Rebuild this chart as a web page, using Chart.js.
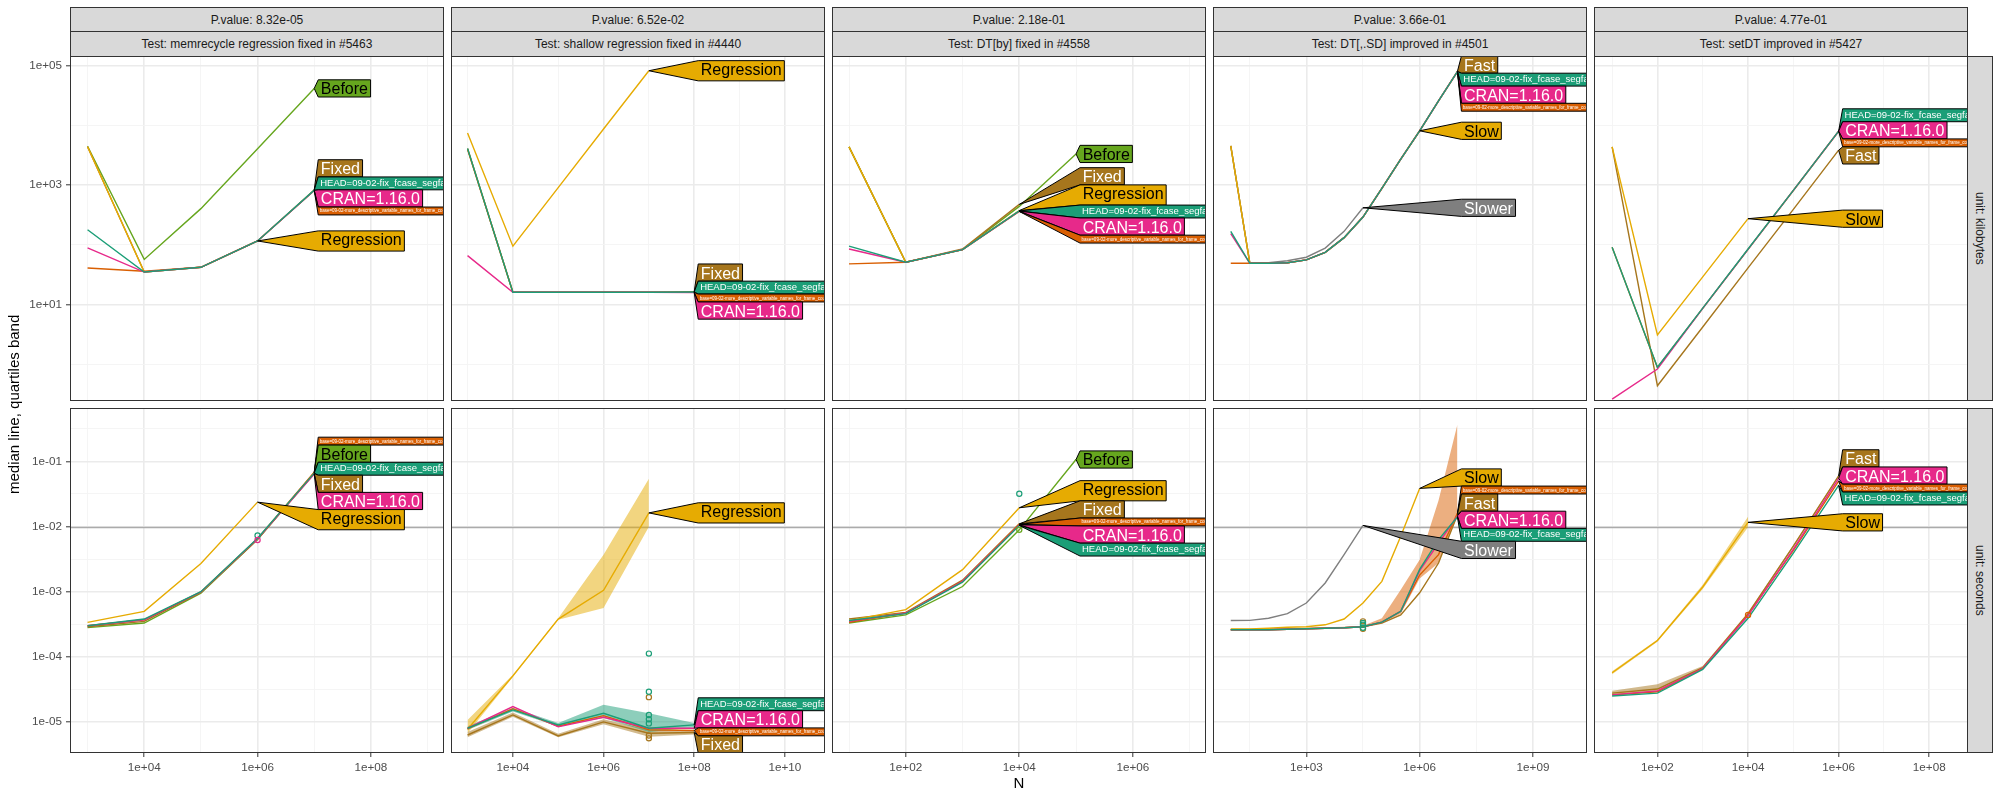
<!DOCTYPE html>
<html>
<head>
<meta charset="utf-8">
<script src="https://cdn.jsdelivr.net/npm/chart.js@4.4.0/dist/chart.umd.min.js"></script>
<style>
  body { margin: 0; background: #fff; }
  #wrap { position: relative; width: 2000px; height: 800px; font-family: 'Liberation Sans', Arial, sans-serif; overflow: hidden; }
  .strip { position: absolute; box-sizing: border-box; background: #D9D9D9; border: 1px solid #333; color: #1A1A1A;
           font-size: 12px; display: flex; align-items: center; justify-content: center; white-space: nowrap; }
  .vert { writing-mode: vertical-rl; }
  .title { position: absolute; color: #000; font-size: 15px; display: flex; align-items: center; justify-content: center; white-space: nowrap; z-index: 2; }
  canvas { position: absolute; }
</style>
</head>
<body>
<div id="wrap"></div>
<script>
// facet labels
const tests = ['memrecycle regression fixed in #5463', 'shallow regression fixed in #4440',
  'DT[by] fixed in #4558', 'DT[,.SD] improved in #4501', 'setDT improved in #5427'];
const pValues = ['8.32e-05', '6.52e-02', '2.18e-01', '3.66e-01', '4.77e-01'];
const units = ['kilobytes', 'seconds'];

// --- memrecycle ---
const nMem = [1e3, 1e4, 1e5, 1e6, 1e7];
const kbMem = {
  Before: [4490, 57, 404, 4080, 41700],
  Regression: [4400, 35, 42, 116, null],
  Fixed: [4400, 35, 42, 116, 830],
  HEAD: [179, 35, 42, 116, 825],
  CRAN: [89, 35, 42, 116, 815],
  base: [41, 36, 42, 116, 810]
};
const secMem = {
  Before: [2.8e-4, 3.3e-4, 9.5e-4, 6.3e-3, 0.067],
  Regression: [3.37e-4, 4.98e-4, 2.7e-3, 0.0237, null],
  Fixed: [2.9e-4, 3.5e-4, 9.8e-4, 6.4e-3, 0.065],
  HEAD: [3.0e-4, 3.8e-4, 1.0e-3, 6.6e-3, 0.066],
  CRAN: [3.0e-4, 3.7e-4, 9.9e-4, 6.5e-3, 0.064],
  base: [3.0e-4, 3.7e-4, 9.8e-4, 6.5e-3, 0.068]
};
const secMemPoints = { CRAN: [[1e6, 6.2e-3]], HEAD: [[1e6, 7.3e-3]] };

// --- shallow ---
const nShallow = [1e3, 1e4, 1e5, 1e6, 1e7, 1e8];
const kbShallow = {
  Regression: [7500, 95, 910, 8700, 82400, null],
  Fixed: [4100, 16.1, 16.1, 16.1, 16.1, 16.4],
  HEAD: [4100, 16.1, 16.1, 16.1, 16.1, 16.2],
  base: [4000, 16.1, 16.1, 16.1, 16.1, 16.0],
  CRAN: [66, 16.1, 16.1, 16.1, 16.1, 15.8]
};
const secShallow = {
  Regression: [7.7e-6, 5.1e-5, 3.8e-4, 1.05e-3, 0.0162, null],
  Fixed: [6.3e-6, 1.28e-5, 6.1e-6, 1.0e-5, 6.7e-6, 6.9e-6],
  HEAD: [8.0e-6, 1.53e-5, 9.0e-6, 1.36e-5, 8.0e-6, 9.0e-6],
  CRAN: [8.0e-6, 1.72e-5, 8.4e-6, 1.18e-5, 8.0e-6, 8.0e-6],
  base: [7.8e-6, 1.6e-5, 8.6e-6, 1.25e-5, 7.6e-6, 7.4e-6]
};
const secShallowBands = {
  Regression: [[6.7e-6, 4.9e-5, 3.7e-4, 5.6e-4, 9.9e-3, null], [1.07e-5, 5.3e-5, 3.9e-4, 3.7e-3, 0.054, null]],
  HEAD: [[7.5e-6, 1.45e-5, 8.5e-6, 1.15e-5, 7.0e-6, 8.2e-6], [8.6e-6, 1.65e-5, 9.6e-6, 1.83e-5, 1.36e-5, 9.6e-6]],
  Fixed: [[5.8e-6, 1.2e-5, 5.8e-6, 9.2e-6, 5.9e-6, 6.4e-6], [7.0e-6, 1.4e-5, 6.6e-6, 1.1e-5, 7.6e-6, 7.4e-6]]
};
const secShallowPoints = {
  HEAD: [[1e7, 1.12e-4], [1e7, 2.9e-5], [1e7, 1.28e-5], [1e7, 1.1e-5], [1e7, 9.5e-6]],
  Fixed: [[1e7, 2.4e-5], [1e7, 6.2e-6], [1e7, 5.6e-6]]
};

// --- DT[by] ---
const nBy = [1e1, 1e2, 1e3, 1e4, 1e5];
const kbBy = {
  Before: [4370, 51, 83, 440, 3330],
  Fixed: [4370, 51, 85, 476, null],
  Regression: [4370, 51, 83, 375, null],
  HEAD: [95, 51, 83, 370, null],
  CRAN: [85, 51, 83, 366, null],
  base: [48, 51, 83, 362, null]
};
const secBy = {
  Before: [3.3e-4, 4.4e-4, 1.2e-3, 8.9e-3, 0.107],
  Regression: [3.6e-4, 5.3e-4, 2.18e-3, 0.0194, null],
  Fixed: [3.8e-4, 4.8e-4, 1.5e-3, 0.0110, null],
  base: [3.4e-4, 4.7e-4, 1.45e-3, 0.0108, null],
  CRAN: [3.5e-4, 4.7e-4, 1.44e-3, 0.0106, null],
  HEAD: [3.6e-4, 4.6e-4, 1.4e-3, 0.0104, null]
};
const secByPoints = { HEAD: [[1e4, 0.0318]], Before: [[1e4, 8.9e-3]] };

// --- DT[,.SD] ---
const nSD = [10, 32, 100, 316, 1000, 3162, 1e4, 31623, 1e5, 316228, 1e6, 3162278, 1e7];
const kbSD = {
  Slower: [4540, 49, 50, 54, 62, 88, 168, 417, null, null, null, null, null],
  Slow: [4540, 49, 49, 50, 56, 75, 132, 292, 885, 2720, 8130, null, null],
  Fast: [4540, 49, 49, 50, 56, 75, 132, 292, 885, 2720, 8130, 25700, 80500],
  HEAD: [168, 49, 49, 50, 56, 75, 132, 292, 885, 2720, 8130, 25700, 80000],
  CRAN: [154, 49, 49, 50, 56, 75, 132, 292, 885, 2720, 8130, 25700, 79500],
  base: [49, 49, 49, 50, 56, 75, 132, 292, 885, 2720, 8130, 25700, 79000]
};
const secSD = {
  Slower: [3.6e-4, 3.62e-4, 3.9e-4, 4.6e-4, 6.7e-4, 1.36e-3, 3.7e-3, 0.0104, null, null, null, null, null],
  Slow: [2.67e-4, 2.67e-4, 2.75e-4, 2.85e-4, 2.9e-4, 3.1e-4, 3.8e-4, 6.7e-4, 1.44e-3, 7.1e-3, 0.0385, null, null],
  Fast: [2.6e-4, 2.6e-4, 2.6e-4, 2.65e-4, 2.7e-4, 2.75e-4, 2.8e-4, 2.9e-4, 3.3e-4, 4.4e-4, 9.6e-4, 2.75e-3, 0.0152],
  HEAD: [2.6e-4, 2.6e-4, 2.6e-4, 2.65e-4, 2.7e-4, 2.75e-4, 2.8e-4, 2.9e-4, 3.4e-4, 5.0e-4, 2.2e-3, 6.3e-3, 0.0140],
  CRAN: [2.6e-4, 2.6e-4, 2.6e-4, 2.65e-4, 2.7e-4, 2.75e-4, 2.8e-4, 2.9e-4, 3.4e-4, 5.0e-4, 2.1e-3, 5.5e-3, 0.0146],
  base: [2.6e-4, 2.6e-4, 2.6e-4, 2.65e-4, 2.7e-4, 2.75e-4, 2.8e-4, 2.9e-4, 3.4e-4, 5.0e-4, 1.8e-3, 3.7e-3, 0.016]
};
const secSDBands = {
  base: [[2.55e-4, 2.55e-4, 2.55e-4, 2.6e-4, 2.65e-4, 2.7e-4, 2.75e-4, 2.85e-4, 3.3e-4, 4.6e-4, 1.6e-3, 2.75e-3, 0.0145],
         [2.7e-4, 2.7e-4, 2.7e-4, 2.75e-4, 2.8e-4, 2.85e-4, 2.9e-4, 3.0e-4, 3.9e-4, 1.07e-3, 3.1e-3, 0.025, 0.37]]
};
const secSDPoints = {
  HEAD: [[31623, 3.3e-4], [31623, 3.1e-4], [31623, 2.8e-4]],
  Fast: [[31623, 3.5e-4], [31623, 2.7e-4]]
};

// --- setDT ---
const nSet = [1e1, 1e2, 1e3, 1e4, 1e5, 1e6];
const kbSet = {
  Slow: [4370, 3.1, 29, 274, null, null],
  Fast: [4370, 0.436, 4.2, 41, 393, 3850],
  HEAD: [91, 0.89, 8.7, 85, 818, 8020],
  CRAN: [0.26, 0.83, 8.6, 84, 815, 8000],
  base: [91, 0.88, 8.6, 84, 812, 7980]
};
const secSet = {
  Slow: [5.7e-5, 1.78e-4, 1.18e-3, 0.0116, null, null],
  Fast: [2.77e-5, 3.2e-5, 6.8e-5, 4.6e-4, 5.0e-3, 0.060],
  HEAD: [2.5e-5, 2.77e-5, 6.4e-5, 3.9e-4, 3.9e-3, 0.043],
  CRAN: [2.6e-5, 3.0e-5, 6.6e-5, 4.3e-4, 4.5e-3, 0.055],
  base: [2.6e-5, 2.9e-5, 6.6e-5, 4.4e-4, 4.3e-3, 0.050]
};
const secSetBands = {
  Slow: [[5.4e-5, 1.7e-4, 1.1e-3, 9.8e-3, null, null], [6.0e-5, 1.85e-4, 1.28e-3, 0.0142, null, null]],
  Fast: [[2.6e-5, 2.9e-5, 6.5e-5, 4.4e-4, 4.8e-3, 0.058], [3.0e-5, 3.8e-5, 7.2e-5, 4.8e-4, 5.2e-3, 0.062]]
};
const secSetPoints = { base: [[1e4, 4.4e-4]] };

// axis breaks, as powers of ten
const xMajorExp = [[4, 6, 8], [4, 6, 8, 10], [2, 4, 6], [3, 6, 9], [2, 4, 6, 8]];
const xMinorExp = [[3, 5, 7, 9], [3, 5, 7, 9], [1, 3, 5, 7], [1.5, 4.5, 7.5], [1, 3, 5, 7]];
const xRangeExp = [[2.69, 9.29], [2.635, 10.885], [0.7, 7.29], [0.53, 10.43], [0.6, 8.855]];
const yMajorExp = [[1, 3, 5], [-5, -4, -3, -2, -1]];
const yMinorExp = [[0, 2, 4], [-4.5, -3.5, -2.5, -1.5, -0.5]];
const yRangeExp = [[-0.616, 5.163], [-5.477, -0.18]];

const panels = [
  { n: nMem, rows: [kbMem, secMem], bands: [{}, {}], points: [{}, secMemPoints] },
  { n: nShallow, rows: [kbShallow, secShallow], bands: [{}, secShallowBands], points: [{}, secShallowPoints] },
  { n: nBy, rows: [kbBy, secBy], bands: [{}, {}], points: [{}, secByPoints] },
  { n: nSD, rows: [kbSD, secSD], bands: [{}, secSDBands], points: [{}, secSDPoints] },
  { n: nSet, rows: [kbSet, secSet], bands: [{}, secSetBands], points: [{}, secSetPoints] }
];

// styling
const seriesColor = {
  HEAD: '#1B9E77', CRAN: '#E7298A', base: '#D95F02', Regression: '#E6AB02', Slow: '#E6AB02',
  Fixed: '#A6761D', Fast: '#A6761D', Before: '#66A61E', Slower: '#7F7F7F'
};
const labelText = {
  HEAD: 'HEAD=09-02-fix_fcase_segfault', CRAN: 'CRAN=1.16.0',
  base: 'base=09-02-more_descriptive_variable_names_for_frame_counting_variables'
};
const darkInk = ['Before', 'Regression', 'Slow'];
const labelSize = { HEAD: 9.5, base: 4.5 };
const drawOrder = ['HEAD', 'CRAN', 'base', 'Regression', 'Slow', 'Fixed', 'Fast', 'Before', 'Slower'];

const panelLeft = [70, 451, 832, 1213, 1594];
const panelW = 374;
const rowTop = [56, 408];
const panelH = 345;
const yAxisW = 70;
const xAxisH = 30;
const FONT = "'Liberation Sans', Arial, sans-serif";

Chart.defaults.font.family = FONT;

const wrap = document.getElementById('wrap');

function addDiv(cls, text, l, t, w, h) {
  const d = document.createElement('div');
  d.className = cls;
  d.textContent = text;
  Object.assign(d.style, { left: l + 'px', top: t + 'px', width: w + 'px', height: h + 'px' });
  wrap.appendChild(d);
  return d;
}

function toXY(n, vals) {
  return vals.map((v, i) => (v == null ? null : { x: n[i], y: v })).filter(Boolean);
}

function alpha(hex, a) {
  const v = parseInt(hex.slice(1), 16);
  return `rgba(${v >> 16},${(v >> 8) & 255},${v & 255},${a})`;
}

function isMajor(v, majors) {
  const e = Math.log10(v);
  return majors.some(m => Math.abs(m - e) < 1e-6);
}

function expLabel(v) {
  const e = Math.round(Math.log10(v));
  return '1e' + (e < 0 ? '-' : '+') + String(Math.abs(e)).padStart(2, '0');
}

function logTicks(majors, minors, lo, hi) {
  return majors.concat(minors).filter(e => e >= lo && e <= hi)
    .sort((a, b) => a - b).map(e => ({ value: Math.pow(10, e) }));
}

function axis(majors, minors, range, showLabels, horizontal) {
  const major = ctx => !!ctx.tick && isMajor(ctx.tick.value, majors);
  return {
    type: 'logarithmic',
    bounds: 'data',
    min: Math.pow(10, range[0]),
    max: Math.pow(10, range[1]),
    afterBuildTicks: s => { s.ticks = logTicks(majors, minors, range[0], range[1]); },
    afterFit: s => {
      if (horizontal) { s.height = showLabels ? xAxisH : 0; s.paddingLeft = 0; s.paddingRight = 0; }
      else { s.width = showLabels ? yAxisW : 0; s.paddingTop = 0; s.paddingBottom = 0; }
    },
    border: { display: false },
    grid: {
      color: ctx => (major(ctx) ? '#EBEBEB' : '#F4F4F4'),
      lineWidth: ctx => (major(ctx) ? 1.6 : 0.9),
      drawTicks: showLabels,
      tickLength: 4,
      tickWidth: 1,
      tickColor: ctx => (major(ctx) ? '#333333' : 'rgba(0,0,0,0)')
    },
    ticks: {
      display: showLabels, autoSkip: false, maxRotation: 0, minRotation: 0, padding: 4,
      color: '#4D4D4D', font: { size: 11.7, family: FONT },
      callback: v => (isMajor(v, majors) ? expLabel(v) : '')
    }
  };
}

// 1-D label placement: keep labels in order, no overlap, as close as possible to their lines
function isotonic(s) {
  const blocks = [];
  s.forEach(v => {
    blocks.push({ sum: v, n: 1 });
    while (blocks.length > 1) {
      const a = blocks[blocks.length - 2], b = blocks[blocks.length - 1];
      if (a.sum / a.n <= b.sum / b.n) break;
      blocks.pop(); a.sum += b.sum; a.n += b.n;
    }
  });
  const out = [];
  blocks.forEach(b => { for (let i = 0; i < b.n; i++) out.push(b.sum / b.n); });
  return out;
}

const directLabels = {
  id: 'directLabels',
  afterDatasetsDraw(chart) {
    const { ctx, chartArea: a, scales: { x, y } } = chart;
    const items = [];
    chart.data.datasets.forEach(ds => {
      if (!ds.labelKey || !ds.data.length) return;
      const last = ds.data[ds.data.length - 1];
      const key = ds.labelKey;
      const size = labelSize[key] || 16;
      const text = labelText[key] || key;
      ctx.font = `${size}px ${FONT}`;
      const m = ctx.measureText(text);
      const pad = 1 + 0.1 * size;
      items.push({
        key, text, size, pad,
        ax: x.getPixelForValue(last.x), ay: y.getPixelForValue(last.y),
        asc: m.actualBoundingBoxAscent,
        w: m.width + 2 * pad,
        h: m.actualBoundingBoxAscent + m.actualBoundingBoxDescent + 2 * pad
      });
    });
    if (!items.length) return;
    items.sort((p, q) => p.ay - q.ay);
    const boxLeft = Math.max(...items.map(it => it.ax)) + 4;
    const c = [0];
    for (let i = 1; i < items.length; i++) c.push(c[i - 1] + (items[i - 1].h + items[i].h) / 2);
    const z = isotonic(items.map((it, i) => it.ay - c[i]));
    const lo = a.top + items[0].h / 2;
    const hi = a.bottom - items[items.length - 1].h / 2 - c[c.length - 1];
    items.forEach((it, i) => { it.cy = Math.min(Math.max(z[i], lo), hi) + c[i]; });

    ctx.save();
    ctx.beginPath();
    ctx.rect(a.left, a.top, a.right - a.left, a.bottom - a.top);
    ctx.clip();
    items.forEach(it => {
      const top = it.cy - it.h / 2, bot = it.cy + it.h / 2;
      ctx.beginPath();
      ctx.moveTo(it.ax, it.ay);
      ctx.lineTo(boxLeft, top);
      ctx.lineTo(boxLeft + it.w, top);
      ctx.lineTo(boxLeft + it.w, bot);
      ctx.lineTo(boxLeft, bot);
      ctx.closePath();
      ctx.fillStyle = seriesColor[it.key];
      ctx.fill();
      ctx.strokeStyle = '#000';
      ctx.lineWidth = 1;
      ctx.stroke();
      ctx.font = `${it.size}px ${FONT}`;
      ctx.fillStyle = darkInk.includes(it.key) ? '#000' : '#fff';
      ctx.textBaseline = 'alphabetic';
      ctx.textAlign = 'left';
      ctx.fillText(it.text, boxLeft + it.pad, top + it.pad + it.asc);
    });
    ctx.restore();
  }
};

const panelFrame = {
  id: 'panelFrame',
  beforeDatasetsDraw(chart, args, opts) {
    if (opts.hline == null) return;
    const { ctx, chartArea: a, scales: { y } } = chart;
    const py = Math.round(y.getPixelForValue(opts.hline)) + 0.5;
    ctx.save();
    ctx.strokeStyle = '#ABABAB';
    ctx.lineWidth = 1.4;
    ctx.beginPath();
    ctx.moveTo(a.left, py);
    ctx.lineTo(a.right, py);
    ctx.stroke();
    ctx.restore();
  },
  afterDraw(chart) {
    const { ctx, chartArea: a } = chart;
    ctx.save();
    ctx.strokeStyle = '#333333';
    ctx.lineWidth = 1;
    ctx.strokeRect(a.left + 0.5, a.top + 0.5, a.right - a.left - 1, a.bottom - a.top - 1);
    ctx.restore();
  }
};

function makePanel(r, c) {
  const p = panels[c];
  const showY = c === 0, showX = r === 1;
  const w = panelW + (showY ? yAxisW : 0);
  const h = panelH + (showX ? xAxisH : 0);
  const canvas = document.createElement('canvas');
  canvas.width = w;
  canvas.height = h;
  Object.assign(canvas.style, {
    left: (panelLeft[c] - (showY ? yAxisW : 0)) + 'px', top: rowTop[r] + 'px',
    width: w + 'px', height: h + 'px'
  });
  wrap.appendChild(canvas);

  const values = p.rows[r];
  const datasets = [];
  const pts = p.points[r];
  Object.keys(pts).forEach(k => datasets.push({
    data: pts[k].map(([px, py]) => ({ x: px, y: py })),
    showLine: false, pointRadius: 2.6, pointBorderWidth: 1.2,
    pointBorderColor: seriesColor[k], pointBackgroundColor: 'rgba(0,0,0,0)', borderColor: seriesColor[k]
  }));
  drawOrder.filter(k => values[k]).forEach(k => datasets.push({
    data: toXY(p.n, values[k]), labelKey: k,
    borderColor: seriesColor[k], borderWidth: 1.4, pointRadius: 0, tension: 0, fill: false
  }));
  const bands = p.bands[r];
  Object.keys(bands).forEach(k => {
    datasets.push({ data: toXY(p.n, bands[k][0]), borderWidth: 0, pointRadius: 0, fill: false });
    datasets.push({ data: toXY(p.n, bands[k][1]), borderWidth: 0, pointRadius: 0, fill: '-1',
      backgroundColor: alpha(seriesColor[k], 0.5) });
  });

  new Chart(canvas, {
    type: 'line',
    data: { datasets },
    options: {
      responsive: false,
      maintainAspectRatio: false,
      devicePixelRatio: 1,
      animation: false,
      events: [],
      layout: { padding: 0, autoPadding: false },
      plugins: {
        legend: { display: false }, tooltip: { enabled: false }, title: { display: false },
        panelFrame: { hline: r === 1 ? 0.01 : null }
      },
      scales: {
        x: axis(xMajorExp[c], xMinorExp[c], xRangeExp[c], showX, true),
        y: axis(yMajorExp[r], yMinorExp[r], yRangeExp[r], showY, false)
      }
    },
    plugins: [panelFrame, directLabels]
  });
}

// facet strips
for (let c = 0; c < 5; c++) {
  addDiv('strip', 'P.value: ' + pValues[c], panelLeft[c], 7, panelW, 25);
  addDiv('strip', 'Test: ' + tests[c], panelLeft[c], 31, panelW, 26);
}
for (let r = 0; r < 2; r++) {
  addDiv('strip vert', 'unit: ' + units[r], panelLeft[4] + panelW - 1, rowTop[r], 26, panelH);
}

for (let r = 0; r < 2; r++) for (let c = 0; c < 5; c++) makePanel(r, c);

// axis titles
const yt = addDiv('title', 'median line, quartiles band', 4, rowTop[0], 20, rowTop[1] + panelH - rowTop[0]);
yt.style.writingMode = 'vertical-rl';
yt.style.transform = 'rotate(180deg)';
addDiv('title', 'N', panelLeft[0], 772, panelLeft[4] + panelW - panelLeft[0], 20);
</script>
</body>
</html>
